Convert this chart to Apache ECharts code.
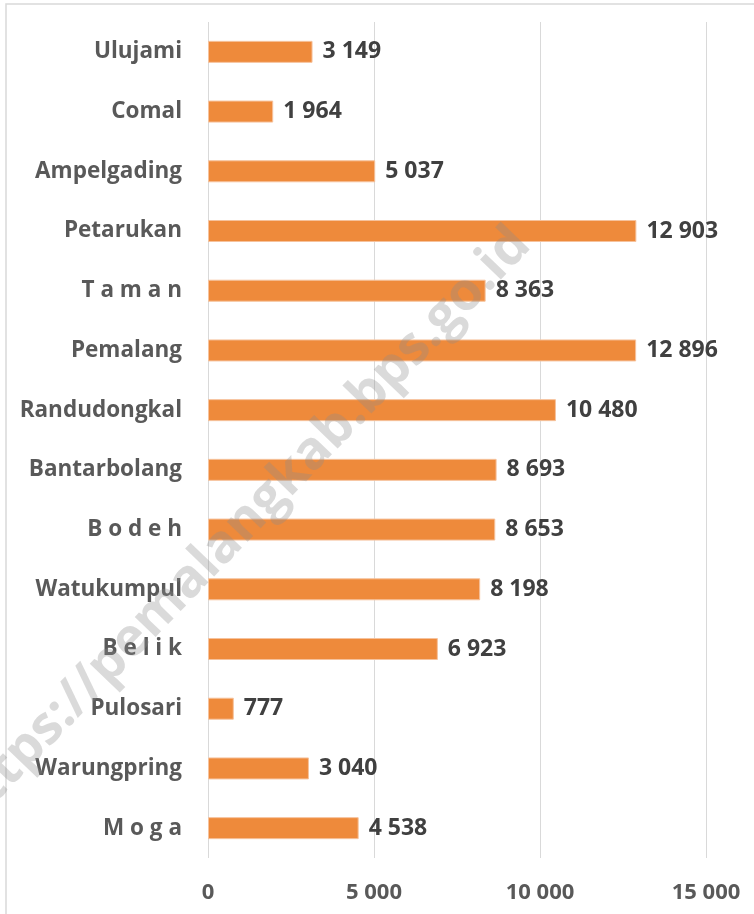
<!DOCTYPE html>
<html>
<head>
<meta charset="utf-8">
<script src="https://cdn.jsdelivr.net/npm/echarts@6/dist/echarts.min.js"></script>
<style>
html,body{margin:0;padding:0;background:#fff;}
#chart{width:754px;height:914px;}
</style>
</head>
<body>
<div id="chart"></div>
<script>
var categories = ["Ulujami","Comal","Ampelgading","Petarukan","T a m a n","Pemalang","Randudongkal","Bantarbolang","B o d e h","Watukumpul","B e l i k","Pulosari","Warungpring","M o g a"];
var values = [3149,1964,5037,12903,8363,12896,10480,8693,8653,8198,6923,777,3040,4538];
var xTicks = {min:0, max:15000, interval:5000};
var watermark = "https://pemalangkab.bps.go.id";

function fmt(v){ return String(v).replace(/\B(?=(\d{3})+(?!\d))/g, ' '); }

var FONT = '"Open Sans", "Liberation Sans", sans-serif';
var chart = echarts.init(document.getElementById('chart'));
chart.setOption({
  animation:false,
  backgroundColor:'#fff',
  grid:{left:208, right:48, top:22, bottom:56, containLabel:false},
  xAxis:{
    type:'value', min:xTicks.min, max:xTicks.max, interval:xTicks.interval,
    axisLine:{show:false}, axisTick:{show:false},
    splitLine:{show:true, lineStyle:{color:'#d9d9d9', width:1}},
    axisLabel:{color:'#595959', fontFamily:FONT, fontWeight:'bold', fontSize:22, margin:24, formatter:fmt}
  },
  yAxis:{
    type:'category', data:categories, inverse:true,
    axisLine:{show:false}, axisTick:{show:false},
    axisLabel:{color:'#595959', fontFamily:FONT, fontWeight:'bold', fontSize:22.5, margin:26}
  },
  series:[{
    type:'bar', data:values, barWidth:22,
    itemStyle:{color:'#EE8A3B', borderColor:'#F6C29C', borderWidth:1},
    label:{show:true, position:'right', distance:10, color:'#404040', fontFamily:FONT, fontWeight:'bold', fontSize:23, formatter:function(p){return fmt(p.value);}}
  }],
  graphic:[
    {type:'rect', shape:{x:6, y:4, width:800, height:1000}, style:{fill:'none', stroke:'#d9d9d9', lineWidth:1.5}, silent:true},
    {type:'text', x:240, y:528, rotation:46*Math.PI/180, z:100,
     style:{text:watermark, fill:'rgba(140,140,140,0.32)', font:'bold 53px ' + FONT, align:'center', verticalAlign:'middle'}, silent:true}
  ]
});
</script>
</body>
</html>
